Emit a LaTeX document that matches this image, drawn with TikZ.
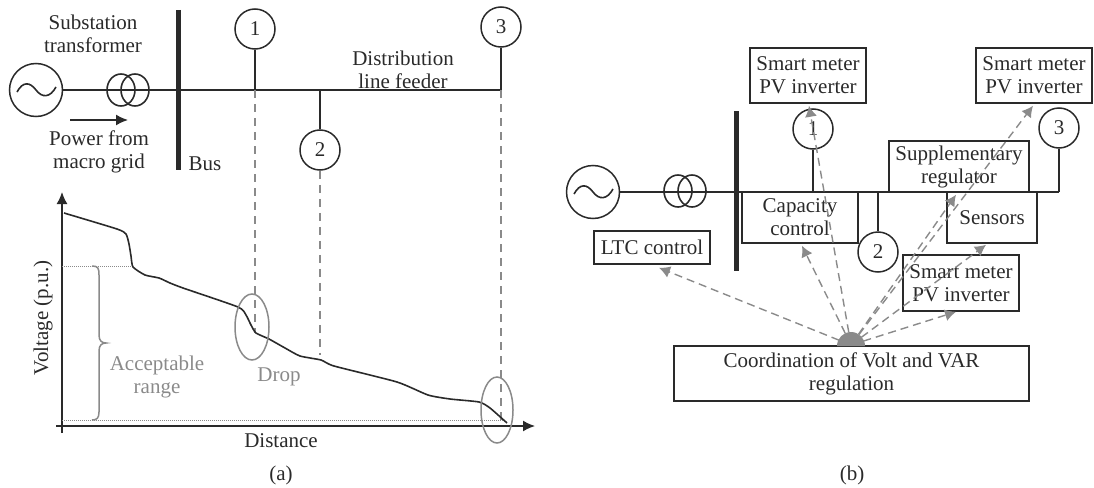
\documentclass[tikz,border=0pt]{standalone}
\usepackage{fontspec}
\setmainfont{Liberation Serif}
\usetikzlibrary{arrows.meta,calc}
\definecolor{ink}{HTML}{2A2A2A}
\definecolor{soft}{HTML}{8A8A8A}
\tikzset{
  every node/.style={font=\fontsize{21}{23}\selectfont,text=ink,inner sep=0pt,align=center},
  wire/.style={draw=ink,line width=1.6pt},
  bar/.style={draw=ink,line width=5pt},
  circ/.style={circle,draw=ink,line width=1.5pt,minimum size=40pt,fill=none},
  srcc/.style={circle,draw=ink,line width=1.5pt,minimum size=53pt},
  box/.style={rectangle,draw=ink,line width=1.6pt},
  guide/.style={draw=soft,line width=1.3pt,dash pattern=on 8pt off 6pt},
  ctrl/.style={draw=soft,line width=1.4pt,dash pattern=on 8pt off 5pt,-{Latex[length=11pt,width=12pt]}},
  dots/.style={draw=soft,line width=1pt,dash pattern=on 1pt off 1pt},
  greyt/.style={text=soft},
  oval/.style={draw=soft,line width=1.5pt}
}
\newcommand{\xf}[2]{%
  \draw[wire] (#1-14,#2) circle[x radius=14pt,y radius=16pt];
  \draw[wire] (#1,#2) circle[x radius=14pt,y radius=16pt];}
\begin{document}
\begin{tikzpicture}[x=1pt,y=-1pt]
\useasboundingbox (0,0) rectangle (1094,487);
% ---------- (a) ----------
\node[srcc] (srcA) at (36,90) {};
\draw[wire] (17,92) .. controls (23,81) and (30,82) .. (36,90) .. controls (42,98) and (50,98) .. (56,87);
\coordinate (busA) at (178,90);
\coordinate (j1) at (255,90);
\coordinate (j2) at (320,90);
\coordinate (j3) at (501,90);
\draw[wire] (srcA) -- (busA) -- (j3);
\xf{135}{90}
\draw[bar] (178,10) -- (178,170);
\node[circ] (n1) at (255,29) {1};
\node[circ] (n2) at (320,150) {2};
\node[circ] (n3) at (501,27) {3};
\draw[wire] (n1) -- (j1);
\draw[wire] (n2) -- (j2);
\draw[wire] (n3) -- (j3);
\node at (93,34) {Substation\\transformer};
\node at (99,152) {Power from\\macro grid};
\node at (205,164) {Bus};
\node at (403,70) {Distribution\\line feeder};
\coordinate (pa) at (70,120);
\coordinate (pb) at (128,120);
\draw[draw=ink,line width=1.5pt,-{Latex[length=12pt,width=11pt]}] (pa) -- (pb);
% axes
\coordinate (o1) at (62,433);
\coordinate (o2) at (62,192);
\coordinate (o3) at (56,426);
\coordinate (o4) at (535,426);
\draw[draw=ink,line width=1.5pt,-{Latex[length=12pt,width=11pt]}] (o1) -- (o2);
\draw[draw=ink,line width=1.5pt,-{Latex[length=12pt,width=11pt]}] (o3) -- (o4);
% guides
\coordinate (g1) at (255,333);
\coordinate (g2) at (320,355);
\coordinate (g3) at (501,420);
\draw[guide] (j1) -- (g1);
\draw[guide] (n2) -- (g2);
\draw[guide] (j3) -- (g3);
% limits
\draw[dots] (62,266) -- (134,266);
\draw[dots] (62,420) -- (505,420);
% voltage curve
\draw[draw=ink,line width=1.6pt,line join=round] plot[smooth,tension=0.35] coordinates {
 (64,213) (117,229) (126,234) (129,244) (131,256) (133,267) (145,275) (159,278) (170,283) (183,288) (238,307)
 (246,315) (251,325) (256,333) (269,339) (285,348) (300,356) (321,360) (334,366) (397,382) (428,395)
 (450,399) (479,402) (490,408) (507,423)};
% brace
\draw[oval] (92,266) .. controls (98,266) and (99,268) .. (99,275) -- (99,335) .. controls (99,341) and (102,343) .. (106,343) .. controls (102,343) and (99,345) .. (99,351) -- (99,412) .. controls (99,418) and (97,420) .. (92,420);
\draw[oval] (252,327) circle[x radius=17pt,y radius=33pt];
\draw[oval] (497,410) circle[x radius=16pt,y radius=33pt];
\node[greyt] at (157,377) {Acceptable\\range};
\node[greyt] at (279,377) {Drop};
\node at (281,441) {Distance};
\node at (281,475) {(a)};
\node[rotate=90] at (43,318) {Voltage (p.u.)};
% ---------- (b) ----------
\node[srcc] (srcB) at (593,192) {};
\draw[wire] (574,194) .. controls (580,183) and (587,184) .. (593,192) .. controls (599,200) and (607,200) .. (613,189);
\coordinate (k3) at (1059,192);
\draw[wire] (srcB) -- (k3);
\xf{692}{191}
\draw[bar] (736,111) -- (736,271);
\node[circ] (m1) at (813,129) {1};
\node[circ] (m2) at (878,252) {2};
\node[circ] (m3) at (1059,128) {3};
\coordinate (k1) at (813,192);
\coordinate (k2) at (878,192);
\draw[wire] (m1) -- (k1);
\draw[wire] (m2) -- (k2);
\draw[wire] (m3) -- (k3);
\node[box,minimum width=116pt,minimum height=55pt] (sm1) at (808,75.5) {Smart meter\\PV inverter};
\node[box,minimum width=116pt,minimum height=55pt] (sm2) at (1034,75.5) {Smart meter\\PV inverter};
\node[box,minimum width=116pt,minimum height=56pt] (sm3) at (961,283) {Smart meter\\PV inverter};
\node[box,minimum width=116pt,minimum height=51pt] (cap) at (800,217.5) {Capacity\\control};
\node[box,minimum width=140pt,minimum height=51pt] (sup) at (959,166.5) {Supplementary\\regulator};
\node[box,minimum width=90pt,minimum height=51pt] (sen) at (992,217.5) {Sensors};
\node[box,minimum width=116pt,minimum height=33pt] (ltc) at (652,247.5) {LTC control};
\node[box,minimum width=355pt,minimum height=55pt] (coord) at (851.5,373.5) {Coordination of Volt and VAR\\regulation};
\coordinate (hub) at (851,345);
\fill[soft] (837,346) arc[start angle=180,end angle=0,radius=14pt] -- cycle;
\draw[ctrl] (hub) -- ($(ltc.south)+(7,3)$);
\draw[ctrl] (hub) -- ($(cap.south)+(2,2)$);
\draw[ctrl] (hub) -- ($(sm1.south)+(1,2)$);
\draw[ctrl] (hub) -- ($(sm2.south)+(-1,2)$);
\draw[ctrl] (hub) -- ($(sup.south)+(-3,2)$);
\draw[ctrl] (hub) -- ($(sen.south)+(-6,1)$);
\draw[ctrl] (hub) -- ($(sm3.south)+(-5,0)$);
\node at (852,475) {(b)};
\end{tikzpicture}
\end{document}
